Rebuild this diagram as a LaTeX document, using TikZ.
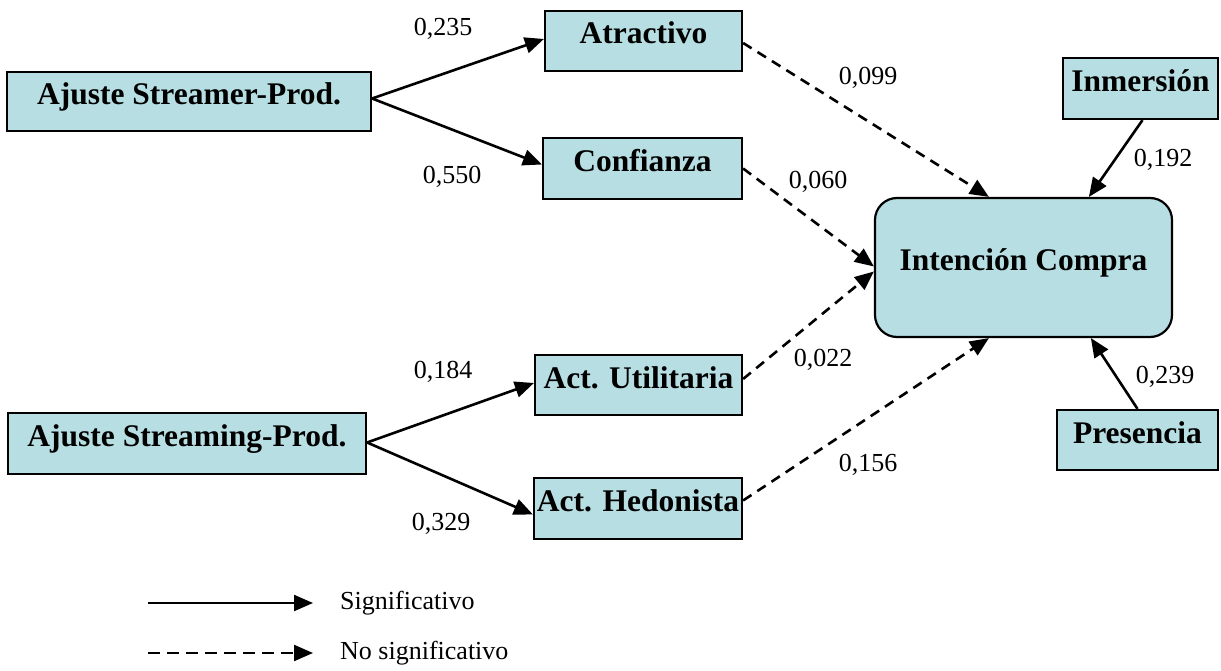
\documentclass[tikz,border=0pt]{standalone}
\usepackage{fontspec}
\setmainfont{Liberation Serif}
\usetikzlibrary{arrows.meta,calc}
\definecolor{boxfill}{RGB}{183,223,227}
\begin{document}
\begin{tikzpicture}[x=1pt,y=-1pt,
  box/.style={draw, line width=2.2pt, fill=boxfill, inner sep=0pt,
    font=\bfseries\fontsize{31.5}{36}\selectfont, text height=22pt, text depth=16pt},
  sig/.style={line width=2.6pt, -{Triangle[length=19pt,width=16pt]}},
  nsig/.style={sig, dash pattern=on 10pt off 7pt},
  lab/.style={font=\fontsize{26}{30}\selectfont, inner sep=0pt}]
\useasboundingbox (0,0) rectangle (1221,671);

% boxes
\node[box, minimum width=364pt, minimum height=59pt] (sp) at (189,101.5) {Ajuste Streamer-Prod.};
\node[box, minimum width=197pt, minimum height=60pt] (at) at (643.5,41) {Atractivo};
\node[box, minimum width=199pt, minimum height=61pt] (co) at (642.5,168.5) {Confianza};
\node[box, minimum width=358pt, minimum height=61pt] (st) at (187,443.5) {Ajuste Streaming-Prod.};
\node[box, minimum width=207pt, minimum height=60pt] (ut) at (638.5,385) {Act. Utilitaria};
\node[box, minimum width=208pt, minimum height=61pt] (he) at (638,508.5) {Act. Hedonista};
\node[box, minimum width=155pt, minimum height=61pt] (im) at (1140.5,88.5) {Inmersión};
\node[box, minimum width=161pt, minimum height=60pt] (pr) at (1137.5,440) {Presencia};
\node[box, rounded corners=22pt, minimum width=297pt, minimum height=139pt] (ic) at (1023.5,267.5) {Intención Compra};

% connectors
\draw[sig] ($(sp.east)+(0,-3)$) -- ($(at.west)+(0,-2)$);
\draw[sig] ($(sp.east)+(0,-3)$) -- ($(co.west)+(0,-4)$);
\draw[sig] ($(st.east)+(0,-1)$) -- ($(ut.west)+(0,-2)$);
\draw[sig] ($(st.east)+(0,-1)$) -- ($(he.west)+(0,6)$);
\draw[nsig] ($(at.east)+(0,2)$) -- ($(ic.north west)+(115,0)$);
\draw[nsig] (co.east) -- ($(ic.west)+(0,-1)$);
\draw[nsig] ($(ut.east)+(0,-6)$) -- ($(ic.west)+(0,4)$);
\draw[nsig] ($(he.east)+(0,-8)$) -- ($(ic.south west)+(115,0)$);
\draw[sig] ($(im.south)+(2,0)$) -- ($(ic.north west)+(215,0)$);
\draw[sig] (pr.north) -- ($(ic.south west)+(217,0)$);

% coefficients
\node[lab] (l1) at (443,29) {0,235};
\node[lab] (l2) at (452,177) {0,550};
\node[lab] (l3) at (868,78) {0,099};
\node[lab] (l4) at (818,182) {0,060};
\node[lab] (l5) at (443,372) {0,184};
\node[lab] (l6) at (823,360) {0,022};
\node[lab] (l7) at (441,524) {0,329};
\node[lab] (l8) at (868,465) {0,156};
\node[lab] (l9) at (1163,160) {0,192};
\node[lab] (l10) at (1165,377) {0,239};

% legend
\coordinate (ga) at (148,603);
\coordinate (gb) at (313,603);
\coordinate (na) at (148,653);
\coordinate (nb) at (313,653);
\draw[sig, line width=2.2pt] (ga) -- (gb);
\draw[nsig, line width=2.2pt, dash pattern=on 12pt off 7pt] (na) -- (nb);
\node[lab, anchor=west] (tg) at (340,603) {Significativo};
\node[lab, anchor=west] (tn) at (340,653) {No significativo};
\end{tikzpicture}
\end{document}
